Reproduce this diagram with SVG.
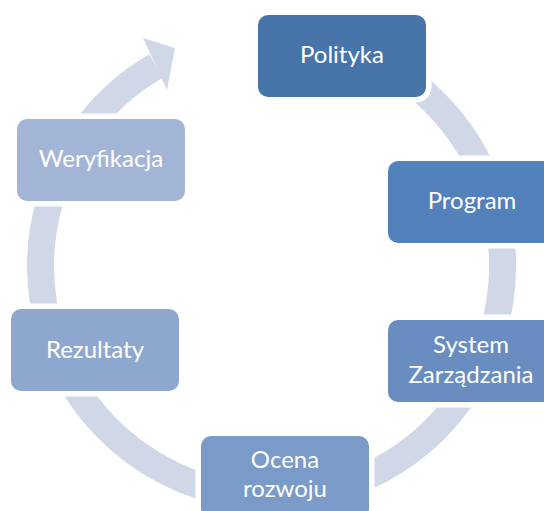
<svg xmlns="http://www.w3.org/2000/svg" width="544" height="511" viewBox="0 0 544 511">
<style>
.box{stroke:#fff;stroke-width:11;paint-order:stroke}
.lbl{font-family:Lato,"Open Sans","Liberation Sans",sans-serif;font-size:24px;fill:#fff;text-anchor:middle}
.ring{fill:none;stroke:#d0d8e8;stroke-width:27}
</style>
<rect width="544" height="511" fill="#fff"/>
<g id="connectors">
<path class="ring" d="M350.5 48.9 A231 231 0 1 1 156 66"/>
<polygon points="175,48 143,38 167,90" fill="#d0d8e8"/>
</g>
<g id="polityka">
<rect class="box" x="258" y="15" width="168" height="82" rx="10" fill="#4775aa"/>
<text class="lbl" x="342" y="63">Polityka</text>
</g>
<g id="program">
<rect class="box" x="388" y="161" width="168" height="82" rx="10" fill="#5381bb"/>
<text class="lbl" x="472" y="209">Program</text>
</g>
<g id="system">
<rect class="box" x="388" y="320" width="168" height="82" rx="10" fill="#698dc1"/>
<text class="lbl" x="471" y="353">System</text>
<text class="lbl" x="471" y="383">Zarządzania</text>
</g>
<g id="ocena">
<rect class="box" x="201" y="436" width="168" height="82" rx="10" fill="#7a9ac7"/>
<text class="lbl" x="285" y="468">Ocena</text>
<text class="lbl" x="285" y="497">rozwoju</text>
</g>
<g id="rezultaty">
<rect class="box" x="11" y="309" width="168" height="82" rx="10" fill="#8ea7ce"/>
<text class="lbl" x="95" y="358">Rezultaty</text>
</g>
<g id="weryfikacja">
<rect class="box" x="17" y="119" width="168" height="82" rx="10" fill="#a3b5d6"/>
<text class="lbl" x="101" y="167">Weryfikacja</text>
</g>
</svg>
